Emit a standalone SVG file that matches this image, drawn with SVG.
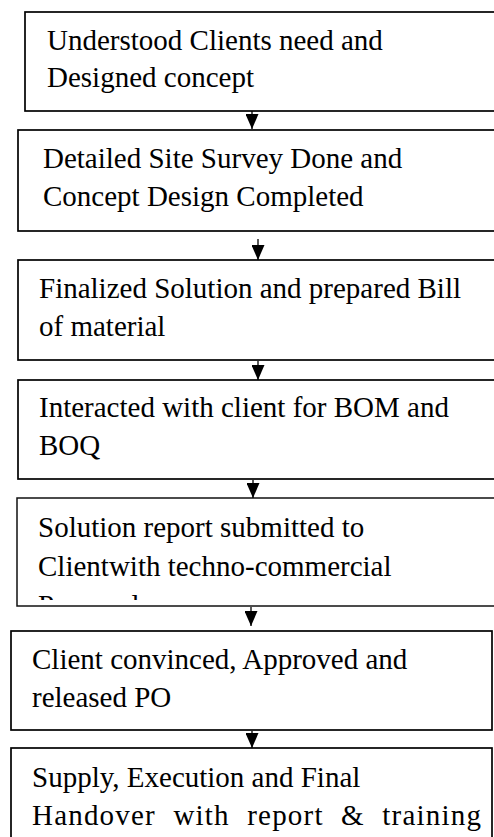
<svg xmlns="http://www.w3.org/2000/svg" width="494" height="837" viewBox="0 0 494 837">
<style>
.box{fill:#fff;stroke:#000;stroke-width:1.7}
.t{font-family:"Liberation Serif","Times New Roman",serif;font-size:29px;fill:#000}
.conn line{stroke:#000;stroke-width:1.3}
</style>
<defs>
<marker id="ah" viewBox="0 0 15 13" refX="15" refY="6.5" markerWidth="15" markerHeight="13" markerUnits="userSpaceOnUse" orient="auto">
<path d="M0,0 L15,6.5 L0,13 z" fill="#000"/>
</marker>
<clipPath id="c5"><rect x="17" y="498" width="480" height="102"/></clipPath>
</defs>
<rect width="494" height="837" fill="#fff"/>
<g id="n1">
<rect class="box" x="25" y="12" width="480" height="99"/>
<text class="t" x="47" y="49.5"><tspan x="47">Understood Clients need and</tspan><tspan x="47" dy="37.5">Designed concept</tspan></text>
</g>
<g id="n2">
<rect class="box" x="18" y="130" width="490" height="101"/>
<text class="t" x="43" y="167.5"><tspan x="43">Detailed Site Survey Done and</tspan><tspan x="43" dy="38">Concept Design Completed</tspan></text>
</g>
<g id="n3">
<rect class="box" x="18" y="260" width="490" height="100"/>
<text class="t" x="39" y="298"><tspan x="39">Finalized Solution and prepared Bill</tspan><tspan x="39" dy="38">of material</tspan></text>
</g>
<g id="n4">
<rect class="box" x="18" y="380" width="490" height="99"/>
<text class="t" x="39" y="416.5"><tspan x="39">Interacted with client for BOM and</tspan><tspan x="39" dy="38">BOQ</tspan></text>
</g>
<g id="n5">
<rect class="box" x="17" y="498" width="490" height="108" style="stroke:#111;stroke-width:1.5"/>
<text class="t" x="38" y="537" clip-path="url(#c5)"><tspan x="38">Solution report submitted to</tspan><tspan x="38" dy="39">Clientwith techno-commercial</tspan><tspan x="38" dy="39">Proposal</tspan></text>
</g>
<g id="n6">
<rect class="box" x="11" y="631" width="481" height="99"/>
<text class="t" x="32" y="669"><tspan x="32">Client convinced, Approved and</tspan><tspan x="32" dy="37.5">released PO</tspan></text>
</g>
<g id="n7">
<rect class="box" x="11" y="748" width="481" height="100"/>
<text class="t" x="32" y="787"><tspan x="32">Supply, Execution and Final</tspan><tspan x="32" dy="38" style="word-spacing:9px;letter-spacing:1.2px">Handover with report &amp; training</tspan></text>
</g>
<g id="connectors" class="conn">
<line x1="252" y1="111" x2="252" y2="129" marker-end="url(#ah)"/>
<line x1="258" y1="239" x2="258" y2="260" marker-end="url(#ah)"/>
<line x1="258" y1="361" x2="258" y2="380" marker-end="url(#ah)"/>
<line x1="253" y1="480" x2="253" y2="498" marker-end="url(#ah)"/>
<line x1="251" y1="607" x2="251" y2="626" marker-end="url(#ah)"/>
<line x1="252" y1="731" x2="252" y2="748" marker-end="url(#ah)"/>
</g>
</svg>
